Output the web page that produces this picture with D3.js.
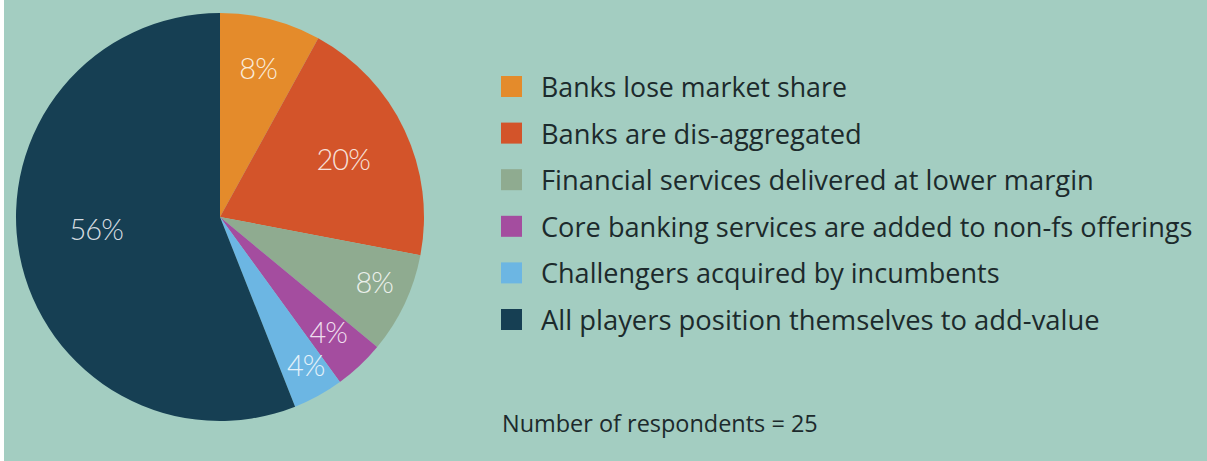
<!DOCTYPE html>
<html>
<head>
<meta charset="utf-8">
<script src="https://cdn.jsdelivr.net/npm/d3@7"></script>
<style>
  html, body { margin: 0; padding: 0; background: #ffffff; }
  svg { display: block; }
</style>
</head>
<body>
<svg id="chart" width="1207" height="461"></svg>
<script>
// Survey outcome categories, in drawing order (clockwise from 12 o'clock)
const categories = [
  "Banks lose market share",
  "Banks are dis-aggregated",
  "Financial services delivered at lower margin",
  "Core banking services are added to non-fs offerings",
  "Challengers acquired by incumbents",
  "All players position themselves to add-value"
];
const shares = [8, 20, 8, 4, 4, 56];
const sliceColors = ["#e48b2b", "#d3542a", "#8fab90", "#a44d9f", "#6cb6e3", "#163f53"];
const footnote = "Number of respondents = 25";

// Layout
const W = 1207, H = 461;
const cx = 220, cy = 217, R = 204;
// placement of each percentage label: radius as a fraction of R, and a small angular nudge (degrees)
const labelRadiusFactor = [0.75, 0.667, 0.82, 0.775, 0.84, 0.61];
const labelAngleShift = [0, 0, -2.3, 0, -1.2, 5.2];
// legend text widths (px) for the condensed face
const legendWidths = [306, 321, 553, 652, 459, 559];

const svg = d3.select("#chart");

svg.append("rect").attr("x", 4).attr("y", 0)
  .attr("width", W - 4).attr("height", H).attr("fill", "#a3cdc1");

const pie = d3.pie().sort(null).value(d => d);
const arcs = pie(shares);
const arc = d3.arc().innerRadius(0).outerRadius(R);

const g = svg.append("g").attr("transform", `translate(${cx},${cy})`);

g.selectAll("path.slice")
  .data(arcs)
  .join("path")
  .attr("class", "slice")
  .attr("d", arc)
  .attr("fill", (d, i) => sliceColors[i]);

g.selectAll("text.pct")
  .data(arcs)
  .join("text")
  .attr("class", "pct")
  .attr("transform", (d, i) => {
    const a = (d.startAngle + d.endAngle) / 2 + labelAngleShift[i] * Math.PI / 180;
    const r = R * labelRadiusFactor[i];
    return `translate(${r * Math.sin(a)},${-r * Math.cos(a)})`;
  })
  .attr("text-anchor", "middle")
  .attr("dy", "0.36em")
  .attr("font-family", "Lato, 'Open Sans', sans-serif")
  .attr("font-weight", 300)
  .attr("font-size", 29)
  .attr("letter-spacing", -1)
  .attr("fill", (d, i) => d3.interpolateRgb(sliceColors[i], "#ffffff")(0.82))
  .text(d => d.data + "%");

// Squeeze a text horizontally so that it spans the given width
function condense(sel, widthOf) {
  sel.each(function (d, i) {
    const t = d3.select(this);
    const x = +t.attr("data-x");
    const natural = this.getComputedTextLength();
    const k = widthOf(d, i) / natural;
    t.attr("x", 0).attr("transform", `translate(${x},0) scale(${k},1)`);
  });
}

// Legend
const legend = svg.append("g").attr("transform", "translate(501,0)");
const rowY = d3.scalePoint().domain(d3.range(categories.length)).range([87, 320]);

const rows = legend.selectAll("g.row")
  .data(categories)
  .join("g")
  .attr("class", "row")
  .attr("transform", (d, i) => `translate(0,${rowY(i)})`);

rows.append("rect")
  .attr("x", 0).attr("y", -11)
  .attr("width", 21).attr("height", 21)
  .attr("fill", (d, i) => sliceColors[i]);

rows.append("text")
  .attr("data-x", 40)
  .attr("dy", "0.36em")
  .attr("font-family", "'Open Sans', sans-serif")
  .attr("font-size", 28)
  .attr("fill", "#1c2a2c")
  .text(d => d)
  .call(condense, (d, i) => legendWidths[i]);

svg.append("g").attr("transform", "translate(0,432)")
  .append("text")
  .datum(footnote)
  .attr("data-x", 502)
  .attr("font-family", "'Open Sans', sans-serif")
  .attr("font-size", 23)
  .attr("fill", "#1c2a2c")
  .text(d => d)
  .call(condense, () => 316);
</script>
</body>
</html>
